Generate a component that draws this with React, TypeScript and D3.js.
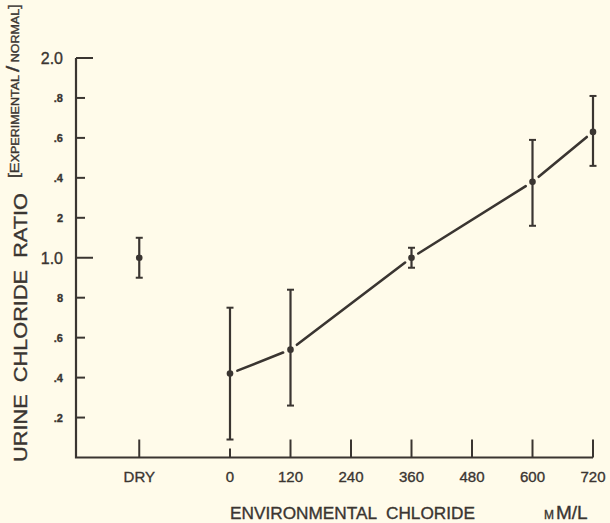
import React from "react";
import * as d3 from "d3";

const W = 610;
const H = 523;

// Data
const xCategories = ["DRY", "0", "120", "240", "360", "480", "600", "720"];
const xTickValues = [-180, 0, 120, 240, 360, 480, 600, 720];
const yTickValues = [0.2, 0.4, 0.6, 0.8, 1.0, 1.2, 1.4, 1.6, 1.8, 2.0];
const yTickLabels = [".2", ".4", ".6", "8", "1.0", "2", ".4", ".6", ".8", "2.0"];

const dryX = -180;
const dryMean = 1.0;
const dryLow = 0.9;
const dryHigh = 1.1;

const seriesX = [0, 120, 360, 600, 720];
const seriesMean = [0.42, 0.54, 1.0, 1.38, 1.63];
const seriesLow = [0.09, 0.26, 0.95, 1.16, 1.46];
const seriesHigh = [0.75, 0.84, 1.05, 1.59, 1.81];

const INK = "#3a3531";
const BG = "#fffbea";
const FONT = "'Liberation Sans', 'DejaVu Sans', sans-serif";

export default function App() {
  const x = d3.scaleLinear().domain([0, 720]).range([230, 593]);
  const y = d3.scaleLinear().domain([0, 2]).range([457.5, 58]);
  const x0 = 76;

  const pts = seriesX.map((v, i) => ({
    x: x(v),
    y: y(seriesMean[i]),
    lo: y(seriesLow[i]),
    hi: y(seriesHigh[i]),
  }));
  const dry = { x: x(dryX), y: y(dryMean), lo: y(dryLow), hi: y(dryHigh) };

  const gap = 8;
  const segments = d3.pairs(pts).map(([a, b]) => {
    const dx = b.x - a.x;
    const dy = b.y - a.y;
    const len = Math.hypot(dx, dy);
    const ux = dx / len;
    const uy = dy / len;
    return {
      x1: a.x + ux * gap,
      y1: a.y + uy * gap,
      x2: b.x - ux * gap,
      y2: b.y - uy * gap,
    };
  });

  const allBars = [dry, ...pts];
  const textStroke = { stroke: INK, strokeWidth: 0.35 };

  return (
    <svg
      width={W}
      height={H}
      style={{ position: "absolute", left: 0, top: 0, display: "block" }}
    >
      <rect x={0} y={0} width={W} height={H} fill={BG} />

      {/* axes */}
      <path
        d={`M${x0},${y(2)} V${y(0)} H${x(720)}`}
        fill="none"
        stroke={INK}
        strokeWidth={2.2}
      />
      {yTickValues.map((v, i) => {
        const major = v === 1.0 || v === 2.0;
        return (
          <g key={"yt" + i}>
            <line
              x1={x0}
              x2={x0 + (major ? 17 : 9)}
              y1={y(v)}
              y2={y(v)}
              stroke={INK}
              strokeWidth={2}
            />
            <text
              x={63}
              y={y(v)}
              dy="0.36em"
              textAnchor="end"
              fontFamily={FONT}
              fontSize={major ? 16 : 11}
              fontWeight={major ? 400 : 700}
              fill={INK}
              {...textStroke}
            >
              {yTickLabels[i]}
            </text>
          </g>
        );
      })}
      {xTickValues.map((v, i) => (
        <g key={"xt" + i}>
          <line
            x1={x(v)}
            x2={x(v)}
            y1={y(0)}
            y2={y(0) - (v === 0 ? 9 : 18)}
            stroke={INK}
            strokeWidth={2}
          />
          <text
            x={x(v)}
            y={482}
            textAnchor="middle"
            fontFamily={FONT}
            fontSize={15}
            fill={INK}
            {...textStroke}
          >
            {xCategories[i]}
          </text>
        </g>
      ))}

      {/* line segments */}
      {segments.map((s, i) => (
        <line
          key={"seg" + i}
          x1={s.x1}
          y1={s.y1}
          x2={s.x2}
          y2={s.y2}
          stroke={INK}
          strokeWidth={2.6}
          strokeLinecap="round"
        />
      ))}

      {/* error bars and points */}
      {allBars.map((p, i) => (
        <g key={"eb" + i}>
          <line x1={p.x} x2={p.x} y1={p.hi} y2={p.lo} stroke={INK} strokeWidth={2.2} />
          <line x1={p.x - 3.5} x2={p.x + 3.5} y1={p.hi} y2={p.hi} stroke={INK} strokeWidth={2} />
          <line x1={p.x - 3.5} x2={p.x + 3.5} y1={p.lo} y2={p.lo} stroke={INK} strokeWidth={2} />
          <circle cx={p.x} cy={p.y} r={3.3} fill={INK} />
        </g>
      ))}

      {/* axis titles */}
      <text
        x={230}
        y={519}
        textLength={245}
        lengthAdjust="spacingAndGlyphs"
        fontFamily={FONT}
        fontSize={17}
        fill={INK}
        style={{ whiteSpace: "pre" }}
        {...textStroke}
      >
        ENVIRONMENTAL  CHLORIDE
      </text>
      <text x={544} y={519} fontFamily={FONT} fill={INK} {...textStroke}>
        <tspan fontSize={12}>M</tspan>
        <tspan fontSize={19} dx={2}>M/L</tspan>
      </text>

      <text
        transform={`translate(27,462) rotate(-90)`}
        textLength={269}
        lengthAdjust="spacingAndGlyphs"
        fontFamily={FONT}
        fontSize={19}
        fill={INK}
        style={{ whiteSpace: "pre" }}
        {...textStroke}
      >
        URINE  CHLORIDE  RATIO
      </text>
      <text
        transform={`translate(19,178) rotate(-90)`}
        textLength={174}
        lengthAdjust="spacingAndGlyphs"
        fontFamily={FONT}
        fill={INK}
        style={{ whiteSpace: "pre" }}
        {...textStroke}
      >
        <tspan fontSize={14}>[</tspan>
        <tspan fontSize={13}>E</tspan>
        <tspan fontSize={10}>XPERIMENTAL </tspan>
        <tspan fontSize={18}>/</tspan>
        <tspan fontSize={10}> NORMAL</tspan>
        <tspan fontSize={14}>]</tspan>
      </text>
    </svg>
  );
}
